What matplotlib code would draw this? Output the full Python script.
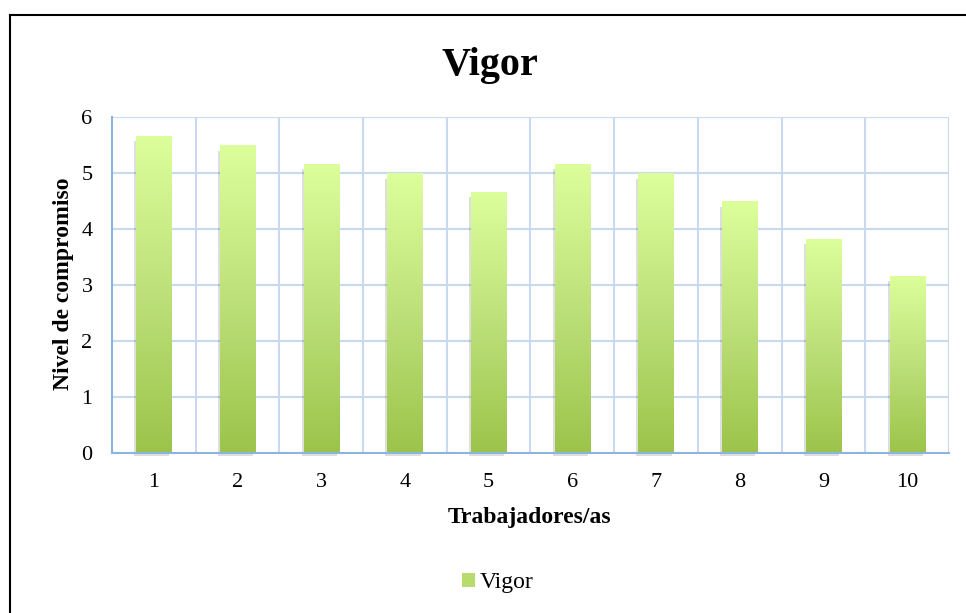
import numpy as np
import matplotlib
matplotlib.use("Agg")
import matplotlib.pyplot as plt
from matplotlib.colors import LinearSegmentedColormap
from matplotlib.patches import Rectangle
from matplotlib.lines import Line2D
import matplotlib.transforms as mtransforms

categories = ["1", "2", "3", "4", "5", "6", "7", "8", "9", "10"]
values = [5.67, 5.5, 5.17, 5.0, 4.67, 5.17, 5.0, 4.5, 3.83, 3.17]
series_name = "Vigor"
yticks = [0, 1, 2, 3, 4, 5, 6]

plt.rcParams['font.family'] = ['Liberation Serif', 'DejaVu Serif']

fig = plt.figure(figsize=(9.66, 6.13), dpi=100)
ax = fig.add_axes([0.1159, 0.261, 0.8665, 0.548])

x = np.arange(1, len(values) + 1)
bw = 0.42
grid_c = "#c9daf0"
spine_c = "#8db3e2"

ax.set_xlim(0.5, len(values) + 0.5)
ax.set_ylim(0, 6)

# shadows
shadow_tr = mtransforms.offset_copy(ax.transData, fig=fig, x=-2, y=-3, units='dots')
for xi, v in zip(x, values):
    ax.add_patch(Rectangle((xi - bw / 2, 0), bw, v - 0.05, facecolor="#000000",
                           alpha=0.13, edgecolor="none", transform=shadow_tr,
                           zorder=2, clip_on=False))

bars = ax.bar(x, values, width=bw, color="none", edgecolor="none", zorder=3)
cmap = LinearSegmentedColormap.from_list("g", ["#9cc44a", "#bde07a", "#dcff9c"])
grad = np.linspace(0, 1, 256).reshape(-1, 1)
for b in bars:
    x0, y0 = b.get_x(), b.get_y()
    w, h = b.get_width(), b.get_height()
    im = ax.imshow(grad, cmap=cmap, aspect='auto', origin='lower',
                   extent=(x0, x0 + w, y0, y0 + h), zorder=3, interpolation='bilinear')
    im.set_clip_path(b)

ax.set_xlim(0.5, len(values) + 0.5)
ax.set_ylim(0, 6)

# grid
ax.set_yticks(yticks)
ax.set_xticks(x)
ax.set_xticklabels(categories)
for yv in yticks[1:]:
    ax.axhline(yv, color=grid_c, lw=1.5, zorder=1)
for xv in np.arange(1.5, len(values) + 0.5, 1.0):
    ax.axvline(xv, color=grid_c, lw=1.5, zorder=1)
ax.axvline(len(values) + 0.5, color=grid_c, lw=1.5, zorder=1)

for s in ["top", "right"]:
    ax.spines[s].set_visible(False)
for s in ["left", "bottom"]:
    ax.spines[s].set_color(spine_c)
    ax.spines[s].set_linewidth(1.5)
    ax.spines[s].set_zorder(4)

ax.tick_params(axis='both', length=0, labelsize=16, colors="black")
ax.tick_params(axis='y', pad=14)
ax.tick_params(axis='x', pad=14.5)

fig.text(0.5485, 1 - 523 / 613, "Trabajadores/as", ha='center', va='baseline',
         fontsize=17, fontweight='bold')
fig.text(63 / 966, 1 - 284 / 613, "Nivel de compromiso", ha='center', va='center',
         rotation=90, fontsize=17, fontweight='bold')

fig.text(0.5075, 1 - 75 / 613, "Vigor", ha='center', va='baseline', fontsize=29, fontweight='bold')

# legend
handle = Rectangle((0, 0), 1, 1, facecolor="#b7db6d", edgecolor="none")
fig.legend([handle], [series_name], loc='center', bbox_to_anchor=(0.5155, 0.049),
           frameon=False, fontsize=17, handlelength=0.55, handleheight=0.55,
           handletextpad=0.2)

# outer frame (left and top edges)
fig.add_artist(Line2D([0.0105, 0.0105], [0, 0.976], transform=fig.transFigure, color="black", lw=1.5))
fig.add_artist(Line2D([0.0105, 1.0], [0.976, 0.976], transform=fig.transFigure, color="black", lw=1.5))

fig.savefig("out.png", dpi=100)
